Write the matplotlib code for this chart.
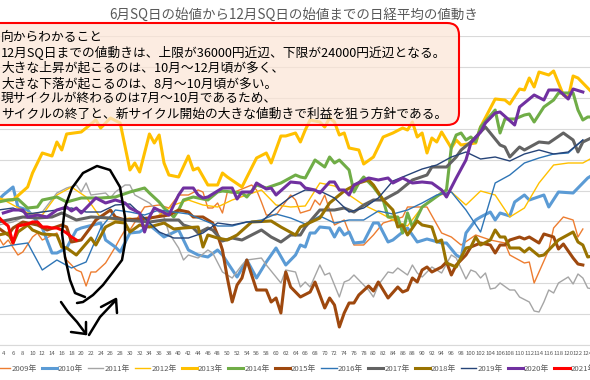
"""
Nikkei average moves from the June SQ open to the December SQ open.
"""
import numpy as np
import matplotlib
matplotlib.use("Agg")
import matplotlib.pyplot as plt
from matplotlib.patches import FancyBboxPatch

plt.rcParams['font.family'] = ['Noto Sans CJK JP', 'DejaVu Sans']

# --------------------------- Data --------------------------- #
# The y labels are cropped off in the source, so values are the height above
# the axis line. One grid step is 30.9.
T_GRID = list(range(3, 127, 3))

T2009 = [3, 4, 5, 7, 8, 10, 11, 12, 15, 17, 19, 20, 21, 22, 23, 25, 27, 28, 29, 30, 33, 36, 38, 40, 42, 44, 45, 46,
         47, 48, 49, 50, 51, 55, 56, 57, 58, 60, 63, 64, 65, 67, 68, 69, 70, 72, 74, 76, 78, 80, 82, 86, 87, 91,
         94, 96, 98, 101, 104, 107, 108, 111, 112, 113, 116, 117, 119, 121, 122, 123]
Y2009 = [108, 100, 105, 90, 93, 108, 112, 105, 112, 85, 75, 73, 59, 73, 73, 82, 98, 107, 115, 115, 138, 140, 137, 150,
         150, 155, 153, 137, 137, 142, 132, 153, 152, 160, 155, 143, 130, 130, 150, 145, 132, 135, 145, 140, 150,
         120, 125, 100, 100, 110, 122, 128, 138, 138, 112, 108, 100, 110, 105, 102, 90, 82, 83, 62, 95, 117, 128,
         125, 108, 116]

T2010 = [3, 4, 6, 7, 9, 12, 14, 15, 17, 19, 20, 24, 25, 27, 28, 30, 32, 34, 36, 37, 40, 42, 44, 46, 48, 49, 52, 54,
         56, 58, 60, 62, 64, 65, 66, 67, 68, 69, 71, 72, 73, 74, 75, 76, 78, 80, 81, 83, 84, 87, 89, 91, 94, 95,
         97, 98, 99, 101, 102, 104, 105, 106, 108, 109, 111, 112, 115, 116, 118, 121, 124, 126]
Y2010 = [145, 150, 158, 138, 135, 117, 92, 92, 97, 115, 117, 122, 105, 98, 93, 112, 113, 120, 112, 108, 115, 95, 90, 88,
         95, 90, 68, 85, 67, 83, 97, 80, 90, 100, 98, 112, 112, 118, 117, 108, 117, 110, 113, 102, 103, 122, 122,
         103, 105, 117, 103, 106, 102, 102, 90, 87, 112, 125, 128, 133, 125, 132, 129, 143, 150, 145, 150, 138,
         153, 152, 167, 173]

T2011 = [3, 6, 9, 12, 15, 17, 19, 20, 21, 22, 25, 26, 27, 29, 30, 31, 34, 37, 38, 40, 41, 42, 44, 46, 47, 49, 51, 53,
         54, 57, 58, 61, 62, 64, 65, 66, 67, 69, 70, 71, 73, 74, 75, 76, 79, 80, 81, 83, 84, 85, 87, 88, 89, 90,
         92, 94, 96, 97, 99, 100, 101, 102, 103, 104, 105, 106, 108, 109, 110, 112, 113, 114, 115, 116, 117, 118,
         120, 121, 122, 123, 124, 126]
Y2011 = [120, 123, 130, 133, 152, 157, 160, 153, 162, 150, 152, 147, 153, 160, 160, 150, 142, 128, 112, 97, 85, 90, 87,
         95, 92, 73, 67, 80, 85, 87, 80, 62, 75, 73, 58, 63, 58, 80, 70, 72, 48, 63, 65, 70, 55, 48, 60, 73, 72,
         77, 70, 80, 72, 68, 78, 72, 90, 87, 66, 75, 73, 67, 72, 56, 57, 62, 55, 55, 48, 43, 34, 33, 43, 55, 52,
         62, 68, 61, 71, 67, 57, 55]

Y2012 = [148, 140, 132, 130, 150, 158, 148, 127, 125, 127, 123, 130, 140, 145, 140, 138, 145, 150, 155, 140, 138,
         139, 162, 159, 150, 140, 133, 125, 119, 138, 149, 153, 140, 154, 150, 128, 137, 162, 180, 182, 182, 190]

T2013 = [3, 6, 9, 10, 12, 14, 15, 16, 17, 20, 23, 24, 26, 28, 30, 31, 32, 34, 35, 36, 37, 38, 40, 42, 43, 44, 46, 48,
         49, 50, 53, 56, 58, 59, 61, 62, 64, 65, 66, 67, 69, 70, 71, 72, 73, 74, 75, 77, 78, 80, 82, 84, 86, 87,
         88, 89, 90, 91, 92, 93, 94, 96, 97, 98, 101, 102, 105, 107, 108, 110, 111, 112, 113, 114, 116, 117, 119,
         120, 121, 122, 125]
Y2013 = [145, 145, 158, 172, 192, 189, 203, 195, 211, 213, 225, 217, 227, 222, 175, 182, 173, 211, 202, 210, 182, 170,
         168, 189, 175, 177, 160, 160, 172, 168, 158, 187, 192, 182, 209, 209, 212, 203, 215, 225, 223, 218, 227,
         223, 210, 212, 197, 195, 181, 188, 208, 212, 217, 215, 223, 208, 212, 192, 207, 203, 213, 197, 205, 200,
         202, 218, 246, 245, 241, 256, 255, 267, 258, 273, 270, 274, 250, 247, 269, 267, 252]

T2014 = [3, 5, 7, 9, 11, 12, 15, 17, 20, 24, 27, 30, 33, 34, 36, 37, 39, 40, 41, 43, 46, 48, 49, 53, 54, 56, 58, 61,
         64, 65, 66, 68, 70, 71, 72, 73, 75, 76, 77, 78, 80, 82, 83, 85, 86, 87, 88, 90, 92, 94, 95, 96, 97, 98,
         99, 100, 101, 102, 105, 106, 107, 109, 111, 112, 113, 115, 117, 118, 121, 122, 123, 124, 126]
Y2014 = [143, 145, 146, 137, 138, 145, 148, 143, 147, 147, 148, 153, 157, 152, 143, 137, 128, 135, 145, 148, 145, 153,
         154, 152, 148, 160, 157, 162, 170, 168, 167, 185, 178, 188, 182, 185, 175, 153, 162, 168, 158, 145, 128,
         128, 112, 132, 118, 138, 145, 152, 155, 198, 210, 212, 205, 208, 203, 218, 235, 212, 226, 226, 230, 231,
         223, 238, 245, 252, 252, 235, 225, 228, 228]

T2015 = [3, 5, 6, 8, 11, 13, 16, 17, 18, 20, 22, 23, 26, 27, 29, 34, 38, 40, 42, 43, 45, 47, 48, 49, 50, 51, 52, 53,
         54, 56, 58, 59, 60, 61, 62, 63, 65, 67, 68, 70, 71, 72, 73, 74, 75, 76, 77, 79, 80, 81, 83, 85, 86, 87,
         88, 89, 90, 91, 92, 94, 95, 96, 97, 99, 100, 102, 104, 105, 106, 107, 108, 110, 111, 112, 114, 115, 117,
         118, 119, 121, 122, 123]
Y2015 = [117, 110, 117, 123, 120, 115, 120, 118, 103, 105, 118, 125, 135, 128, 125, 127, 130, 135, 133, 128, 128, 122,
         110, 95, 67, 43, 60, 67, 85, 55, 55, 43, 47, 32, 73, 58, 48, 53, 63, 37, 47, 40, 18, 32, 42, 42, 50, 59,
         54, 63, 47, 58, 53, 55, 67, 63, 75, 78, 73, 78, 83, 70, 80, 90, 98, 102, 100, 92, 100, 100, 105, 108, 106,
         108, 102, 111, 108, 96, 101, 87, 81, 80]

Y2016 = [97, 100, 102, 75, 85, 77, 83, 117, 135, 133, 130, 135, 133, 131, 125, 119, 119, 123, 125, 131, 127,
         121, 129, 122, 125, 125, 134, 131, 135, 142, 150, 153, 135, 113, 162, 170, 182, 187, 191, 192, 205, np.nan]

T2017 = [3, 5, 8, 11, 14, 16, 19, 22, 26, 29, 34, 37, 40, 41, 43, 44, 46, 47, 49, 51, 53, 55, 57, 59, 61, 63, 65, 66,
         69, 72, 74, 76, 78, 80, 82, 85, 88, 91, 92, 95, 97, 98, 100, 103, 104, 106, 107, 108, 110, 111, 114, 116,
         119, 121, 122, 123, 126]
Y2017 = [123, 125, 128, 127, 128, 132, 125, 128, 127, 125, 123, 125, 125, 120, 117, 112, 117, 115, 104, 107, 105, 110,
         115, 108, 103, 110, 110, 118, 135, 135, 137, 133, 140, 145, 145, 153, 165, 170, 178, 178, 188, 195, 203,
         218, 212, 200, 198, 188, 198, 195, 203, 202, 212, 205, 193, 203, 210]

T2018 = [3, 5, 6, 7, 9, 10, 12, 15, 16, 17, 19, 22, 23, 25, 27, 29, 30, 32, 34, 37, 39, 41, 44, 45, 46, 48, 50, 52,
         55, 59, 61, 64, 65, 69, 71, 73, 74, 77, 79, 80, 82, 84, 85, 86, 87, 89, 90, 92, 93, 94, 95, 97, 99, 100,
         101, 102, 104, 105, 106, 107, 108, 110, 111, 112, 114, 115, 118, 121, 122, 123, 124, 126]
Y2018 = [110, 112, 102, 113, 120, 115, 111, 110, 98, 97, 90, 107, 100, 118, 123, 122, 113, 120, 118, 122, 116, 117,
         118, 98, 110, 107, 105, 110, 123, 124, 118, 110, 118, 127, 142, 150, 154, 162, 165, 160, 145, 135, 118,
         120, 110, 124, 120, 118, 103, 105, 82, 78, 97, 98, 108, 100, 105, 115, 108, 108, 97, 97, 93, 97, 89, 90,
         105, 113, 103, 100, 88, 90]

Y2019 = [135, 137, 131, 133, 135, 137, 133, 133, 140, 141, 127, 113, 107, 107, 112, 122, 120, 123, 123, 137, 148,
         155, 154, 147, 133, 137, 147, 164, 170, 176, 180, 188, 193, 186, 188, 184, 191, 195, 191, 193, 205, np.nan]

T2020 = [4, 6, 8, 9, 11, 13, 15, 17, 18, 19, 20, 22, 23, 25, 27, 29, 30, 32, 33, 34, 35, 38, 40, 41, 43, 44, 45, 46,
         49, 51, 52, 53, 55, 56, 58, 59, 60, 63, 65, 66, 68, 69, 71, 72, 73, 74, 75, 76, 79, 81, 83, 84, 86, 88,
         90, 92, 94, 95, 97, 99, 100, 102, 103, 105, 106, 109, 110, 113, 115, 116, 118, 120, 121, 123]
Y2020 = [132, 135, 135, 128, 130, 128, 135, 138, 134, 137, 132, 142, 147, 142, 145, 142, 137, 132, 113, 128, 137, 130,
         150, 157, 157, 150, 147, 148, 157, 157, 146, 153, 153, 162, 156, 157, 150, 163, 162, 157, 155, 152, 163,
         163, 155, 155, 150, 160, 167, 165, 167, 162, 167, 162, 163, 162, 155, 148, 167, 185, 202, 213, 222, 232,
         233, 220, 238, 250, 245, 255, 255, 246, 256, 253]

T2021 = list(range(3, 20))
Y2021 = [128, 123, 119, 102, 119, 120, 121, 123, 123, 118, 118, 117, 117, 115, 112, 108, 105]

LABELS = ["2009年", "2010年", "2011年", "2012年", "2013年", "2014年", "2015年",
          "2016年", "2017年", "2018年", "2019年", "2020年", "2021年"]
COLORS = ["#ED7D31", "#5B9BD5", "#A5A5A5", "#FFC000", "#FFC000", "#70AD47", "#9E480E",
          "#2E75B6", "#636363", "#997300", "#264478", "#7030A0", "#FF0000"]
WIDTHS = [1.0, 2.2, 1.0, 1.0, 2.2, 2.2, 2.2, 1.0, 2.2, 2.2, 1.0, 2.2, 2.2]

TICKS = list(range(4, 125, 2))

TITLE = "6月SQ日の始値から12月SQ日の始値までの日経平均の値動き"
NOTES = [
    "向からわかること",
    "12月SQ日までの値動きは、上限が36000円近辺、下限が24000円近辺となる。",
    "大きな上昇が起こるのは、10月～12月頃が多く、",
    "大きな下落が起こるのは、8月～10月頃が多い。",
    "現サイクルが終わるのは7月～10月であるため、",
    "サイクルの終了と、新サイクル開始の大きな値動きで利益を狙う方針である。",
]

# hand drawn marks on top of the chart, in picture pixels
LOOP_X = [85, 75, 70, 65, 62, 65, 72, 83, 97, 110, 120, 125, 125, 122, 113, 103, 93, 83, 77]
LOOP_Y = [297, 293, 280, 257, 233, 207, 188, 173, 166, 170, 187, 217, 243, 260, 272, 285, 295, 302, 303]
DOWN_X = [61, 68, 77, 86]
DOWN_Y = [302, 312, 322, 334]
DOWN_HEAD_X = [71, 86, 86]
DOWN_HEAD_Y = [332, 334, 322]
UP_X = [89, 100, 116]
UP_Y = [335, 317, 300]
UP_HEAD_X = [101, 116, 117]
UP_HEAD_Y = [307, 299, 313]


def make_plot():
    """Draw the year lines, the note box and the hand drawn marks."""
    fig = plt.figure(figsize=(5.9, 3.8), dpi=100)
    ax = fig.add_axes([0, 35 / 380, 1, 309 / 380])

    series = [(T2009, Y2009), (T2010, Y2010), (T2011, Y2011), (T_GRID, Y2012), (T2013, Y2013),
              (T2014, Y2014), (T2015, Y2015), (T_GRID, Y2016), (T2017, Y2017), (T2018, Y2018),
              (T_GRID, Y2019), (T2020, Y2020), (T2021, Y2021)]
    lines = []
    for (x_vals, y_vals), color, width, label in zip(series, COLORS, WIDTHS, LABELS):
        line, = ax.plot(x_vals, y_vals, color=color, lw=width, label=label,
                        solid_joinstyle="round")
        lines.append(line)

    ax.set_xlim(3.32, 3.32 + 590 / 4.87)
    ax.set_ylim(0, 309)
    ax.set_xticks(TICKS)
    ax.set_yticks(np.arange(0, 310, 30.9))
    ax.set_yticklabels([])
    ax.tick_params(length=0)
    ax.tick_params(axis="x", labelsize=4.3, labelcolor="#595959", pad=4.5)
    ax.grid(axis="y", color="#D9D9D9", lw=0.8)
    ax.set_axisbelow(True)
    for name, spine in ax.spines.items():
        spine.set_visible(name == "bottom")
    ax.spines["bottom"].set_color("#D9D9D9")

    fig.legend(handles=lines, loc="lower left", bbox_to_anchor=(-5 / 590, 7 / 380),
               ncol=13, frameon=False, fontsize=5.6, labelcolor="#595959",
               borderpad=0, borderaxespad=0, handlelength=1.95, handletextpad=0.15,
               columnspacing=0.65)

    over = fig.add_axes([0, 0, 1, 1])
    over.set_xlim(0, 590)
    over.set_ylim(380, 0)
    over.axis("off")
    over.add_patch(FancyBboxPatch((-40, 23), 499, 102, boxstyle="round,pad=0,rounding_size=12",
                                  fc=(0.984, 0.898, 0.839, 0.72), ec="#FF0000", lw=1.5))
    for i, note in enumerate(NOTES):
        over.text(1, 38 + i * 15.2, note, fontsize=9.15, color="black", va="center", ha="left")
    over.text(294, 15, TITLE, fontsize=9.7, color="#595959", va="center", ha="center")

    for xs, ys in [(LOOP_X, LOOP_Y), (DOWN_X, DOWN_Y), (DOWN_HEAD_X, DOWN_HEAD_Y),
                   (UP_X, UP_Y), (UP_HEAD_X, UP_HEAD_Y)]:
        over.plot(xs, ys, color="black", lw=1.8, solid_capstyle="round", solid_joinstyle="round")

    return fig


if __name__ == "__main__":
    fig = make_plot()
    fig.savefig("out.png", dpi=100)
